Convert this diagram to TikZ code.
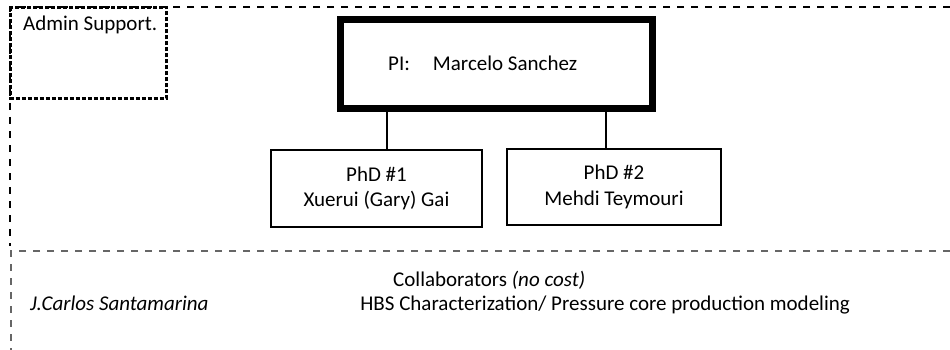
\documentclass[tikz,border=0pt]{standalone}
\usepackage{fontspec}
\setmainfont{Carlito}
\usetikzlibrary{calc}

\begin{document}
\begin{tikzpicture}[x=1pt, y=-1pt, font=\fontsize{21}{25.5}\selectfont,
    frameline/.style={dash pattern=on 7pt off 7pt, line width=2pt},
    lowline/.style={dash pattern=on 7pt off 7pt, line width=1.2pt, black!60},
    adminbox/.style={dash pattern=on 4pt off 2pt, line width=2.6pt},
    pibox/.style={rectangle, draw, line width=6.5pt, inner sep=0pt, outer sep=0pt},
    phdbox/.style={rectangle, draw, line width=2pt, inner sep=0pt, outer sep=0pt, align=center},
    conn/.style={line width=2pt},
    lowtext/.style={inner sep=0pt, anchor=base west}]
    \useasboundingbox (0,0) rectangle (950,350);

        % Upper frame.
        \draw[frameline] (950,7) -- (10,7) -- (10,246);

        % Admin box.
        \draw[adminbox] (10.5,7.5) rectangle (166.5,98.5);
        \node[inner sep=0pt, anchor=base west] (admin) at (23,31) {Admin Support.};

        % PI.
        \node[pibox, minimum width=312pt, minimum height=89pt] (PI) at (496.5,64) {};
        \node[inner sep=0pt, anchor=base west] (PI-text) at (388,71) {PI:\hspace{23pt}Marcelo Sanchez};

        % PhD students.
        \foreach \n/\x/\y/\w/\h/\who in {1/376.5/188.5/211/77/{Xuerui (Gary) Gai}, 2/614/187/214/76/{Mehdi Teymouri}}
            \node[phdbox, minimum width=\w pt, minimum height=\h pt] (PhD-\n) at (\x,\y) {PhD \#\n\\\who};

        % Connections.
        \foreach \n/\dx in {1/116, 2/99} {
            \path ($(PhD-\n.north west)+(\dx,0)$) coordinate (top-\n);
            \draw[conn] (top-\n) -- (top-\n |- PI.south);
        }

        % Lower frame.
        \draw[lowline] (950,251) -- (11,251) -- (11,350);

        % Collaborators.
        \node[lowtext] (collab) at (393,286) {Collaborators \textit{(no cost)}};
        \node[lowtext] (santamarina) at (30,310) {\textit{J.Carlos Santamarina}};
        \node[lowtext, anchor=base east] (topic) at (850,310) {HBS Characterization/ Pressure core production modeling};

    \end{tikzpicture}
\end{document}
